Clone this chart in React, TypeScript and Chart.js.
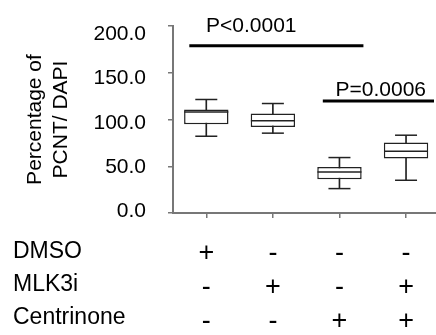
import React, { useEffect, useRef } from 'react';
import { Chart, registerables } from 'chart.js';

Chart.register(...registerables);

// ---- data ----
const groups = [1, 2, 3, 4];
const whiskerLow = [82.1, 85.4, 26.1, 35.0];
const q1 = [95.0, 92.1, 36.1, 58.2];
const medians = [107.9, 98.6, 43.9, 66.1];
const q3 = [110.7, 106.4, 49.3, 75.4];
const whiskerHigh = [121.4, 117.1, 59.3, 83.2];

const yTicks = [0, 50, 100, 150, 200];

const rowNames = ['DMSO', 'MLK3i', 'Centrinone'];
const dmso = ['+', '-', '-', '-'];
const mlk3i = ['-', '+', '-', '+'];
const centrinone = ['-', '-', '+', '+'];

const sigFrom = [0.745, 2.75];
const sigTo = [3.36, 4.42];
const sigY = [178.9, 119.8];
const sigLabels = ['P<0.0001', 'P=0.0006'];
const sigLabelX = [1.675, 3.62];
const sigLabelY = [193.6, 125.5];

const FONT = "'Liberation Sans', Arial, Helvetica, sans-serif";
const AXIS_GREY = '#777777';
const LINE = '#222222';

const textPlugin = {
  id: 'extraText',
  afterDatasetsDraw(chart: any) {
    const { ctx, scales } = chart;
    const xs = scales.x;
    const ys = scales.y;
    ctx.save();
    ctx.fillStyle = '#000';
    ctx.font = `21px ${FONT}`;
    ctx.textAlign = 'center';
    ctx.textBaseline = 'alphabetic';
    sigLabels.forEach((t, i) => {
      ctx.fillText(t, xs.getPixelForValue(sigLabelX[i]), ys.getPixelForValue(sigLabelY[i]));
    });
    ctx.font = `23px ${FONT}`;
    ctx.textAlign = 'left';
    rowNames.forEach((t, i) => {
      ctx.fillText(t, 13, xs.top + 44.5 + i * 33.3);
    });
    ctx.restore();
  },
};

export default function App() {
  const ref = useRef<HTMLCanvasElement | null>(null);

  useEffect(() => {
    if (!ref.current) return;
    const datasets: any[] = [
      {
        type: 'bar',
        label: 'whiskers',
        data: groups.map((g, i) => ({ x: g, y: [whiskerLow[i], whiskerHigh[i]] })),
        backgroundColor: LINE,
        borderWidth: 0,
        barThickness: 1,
        grouped: false,
        order: 5,
      },
      {
        type: 'bar',
        label: 'box',
        data: groups.map((g, i) => ({ x: g, y: [q1[i], q3[i]] })),
        backgroundColor: '#ffffff',
        borderColor: LINE,
        borderWidth: 1.5,
        borderSkipped: false,
        barPercentage: 0.667,
        categoryPercentage: 1,
        grouped: false,
        order: 4,
      },
      {
        type: 'line',
        label: 'caps',
        data: [
          ...groups.map((g, i) => ({ x: g, y: whiskerHigh[i] })),
          ...groups.map((g, i) => ({ x: g, y: whiskerLow[i] })),
        ],
        showLine: false,
        pointStyle: 'line',
        pointRadius: 11,
        pointBorderWidth: 1.5,
        pointBorderColor: LINE,
        clip: false,
        order: 3,
      },
      {
        type: 'line',
        label: 'medians',
        data: groups.map((g, i) => ({ x: g, y: medians[i] })),
        showLine: false,
        pointStyle: 'line',
        pointRadius: 22,
        pointBorderWidth: 1.5,
        pointBorderColor: LINE,
        clip: false,
        order: 2,
      },
      ...sigFrom.map((f, i) => ({
        type: 'line',
        label: sigLabels[i],
        data: [
          { x: f, y: sigY[i] },
          { x: sigTo[i], y: sigY[i] },
        ],
        borderColor: '#000',
        borderWidth: 3,
        pointRadius: 0,
        clip: false,
        order: 1,
      })),
    ];

    const chart = new Chart(ref.current, {
      type: 'bar',
      data: { datasets },
      plugins: [textPlugin],
      options: {
        animation: false,
        responsive: false,
        events: [],
        layout: { autoPadding: false, padding: { top: 26, left: 0, right: 0, bottom: 0 } },
        plugins: { legend: { display: false }, tooltip: { enabled: false } },
        scales: {
          x: {
            type: 'linear',
            min: 0.5,
            max: 4.45,
            offset: false,
            afterBuildTicks: (s: any) => {
              s.ticks = groups.map((v) => ({ value: v }));
            },
            afterFit: (s: any) => {
              s.height = 122;
              s.paddingLeft = 0;
              s.paddingRight = 0;
            },
            grid: {
              offset: false,
              drawOnChartArea: false,
              drawTicks: true,
              tickLength: 5,
              color: AXIS_GREY,
              lineWidth: 1.5,
            },
            border: { display: true, color: AXIS_GREY, width: 2 },
            ticks: {
              padding: 19,
              maxRotation: 0,
              autoSkip: false,
              color: '#000',
              font: { family: FONT, size: 27, lineHeight: 34 / 27 },
              callback: (v: any) => {
                const i = groups.indexOf(Number(v));
                return i < 0 ? '' : [dmso[i], mlk3i[i], centrinone[i]];
              },
            },
          },
          y: {
            type: 'linear',
            position: 'left',
            weight: 0,
            min: 0,
            max: 200,
            afterBuildTicks: (s: any) => {
              s.ticks = yTicks.map((v) => ({ value: v }));
            },
            afterFit: (s: any) => {
              s.width = 5;
              s.paddingTop = 0;
              s.paddingBottom = 0;
            },
            grid: {
              drawOnChartArea: false,
              drawTicks: true,
              tickLength: 5,
              color: AXIS_GREY,
              lineWidth: 1.5,
            },
            border: { display: true, color: AXIS_GREY, width: 2 },
            ticks: { display: false },
          },
          yLab: {
            type: 'linear',
            position: 'left',
            weight: 10,
            min: -2.27,
            max: 209.6,
            afterBuildTicks: (s: any) => {
              s.ticks = yTicks.map((v) => ({ value: v }));
            },
            afterFit: (s: any) => {
              s.width = 168;
              s.paddingTop = 0;
              s.paddingBottom = 0;
            },
            grid: { display: false, drawTicks: false },
            border: { display: false },
            ticks: {
              padding: 22,
              color: '#000',
              font: { family: FONT, size: 21 },
              callback: (v: any) => Number(v).toFixed(1),
            },
            title: {
              display: true,
              text: ['Percentage of', 'PCNT/ DAPI'],
              color: '#000',
              font: { family: FONT, size: 21, lineHeight: 1.2 },
              padding: { top: 23, bottom: 0 },
            },
          },
        },
      } as any,
    });
    return () => chart.destroy();
  }, []);

  return (
    <div style={{ position: 'absolute', left: 0, top: 0, width: 436, height: 335, background: '#fff' }}>
      <canvas ref={ref} width={436} height={335} style={{ display: 'block' }} />
    </div>
  );
}
